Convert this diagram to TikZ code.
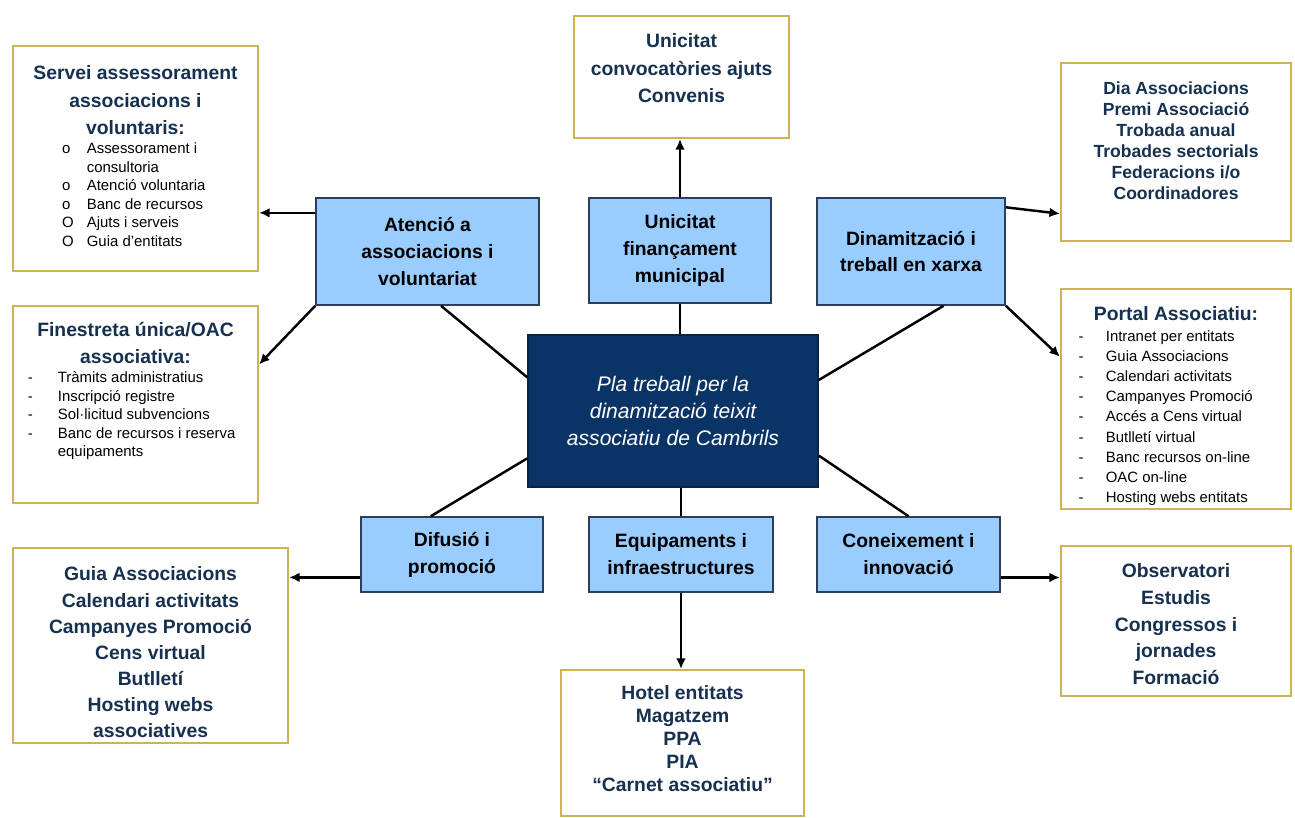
\documentclass[tikz,border=0pt]{standalone}
\usepackage{fontspec}
\setmainfont{Liberation Sans}
\usetikzlibrary{arrows.meta,positioning}
\definecolor{boxblue}{HTML}{99CCFF}
\definecolor{boxline}{HTML}{2B3F5C}
\definecolor{ctrfill}{HTML}{0B3466}
\definecolor{gold}{HTML}{CDB352}
\definecolor{ink}{HTML}{16304F}
\newcommand{\itm}[4]{\par\noindent\hangindent=#2\hangafter=1\makebox[#2][l]{\hspace{#1}#3}#4\par}
\newcommand{\ttl}{\centering\bfseries\color{ink}}
\newcommand{\lst}{\raggedright\mdseries\color{black}\fontsize{8.5}{10.6}\selectfont}
\tikzset{
  ybox/.style={draw=gold, line width=1.2pt, fill=white, inner sep=0pt, anchor=north west},
  bbox/.style={draw=boxline, line width=0.9pt, fill=boxblue, inner sep=0pt, align=center,
    text=black, font=\bfseries\fontsize{11}{15.3}\selectfont},
  cbox/.style={draw=ctrfill!70!black, line width=0.9pt, fill=ctrfill, inner sep=0pt, align=center,
    text=white, font=\itshape\fontsize{12}{15.4}\selectfont},
  ln/.style={line width=1.4pt, black},
  arr/.style={ln, -{Latex[length=6pt,width=5.5pt]}}
}

\begin{document}
\begin{tikzpicture}[x=0.02cm, y=-0.02cm]
	\useasboundingbox (0,0) rectangle (1295,818);
	
	\node[cbox, minimum width=5.8cm, minimum height=3.04cm] (ctr) at (673,411)
		{Pla treball per la\\dinamització teixit\\associatiu de Cambrils};
	
	\node[bbox, minimum width=4.46cm, minimum height=2.14cm] (at) at (427.5,251.5) {Atenció a\\associacions i\\voluntariat};
	\node[bbox, minimum width=3.64cm, minimum height=2.1cm] (un) at (680,250.5) {Unicitat\\finançament\\municipal};
	\node[bbox, minimum width=3.76cm, minimum height=2.14cm] (di) at (911,251.5) {Dinamització i\\treball en xarxa};
	\node[bbox, minimum width=3.64cm, minimum height=1.5cm] (df) at (452,554.5) {Difusió i\\promoció};
	\node[bbox, minimum width=3.68cm, minimum height=1.5cm] (eq) at (681,554.5) {Equipaments i\\infraestructures};
	\node[bbox, minimum width=3.66cm, minimum height=1.5cm] (co) at (908.5,554.5) {Coneixement i\\innovació};
	
	\node[ybox] (sv) at (12,45) {\parbox[t][4.5cm][t]{4.9cm}{\ttl\fontsize{11}{15.6}\selectfont
		\rule{0pt}{19.3pt}Servei assessorament\\associacions i\\voluntaris:\par
		\lst
		\itm{28pt}{42pt}{o}{Assessorament i\newline consultoria}
		\itm{28pt}{42pt}{o}{Atenció voluntaria}
		\itm{28pt}{42pt}{o}{Banc de recursos}
		\itm{28pt}{42pt}{O}{Ajuts i serveis}
		\itm{28pt}{42pt}{O}{Guia d’entitats}}};
	
	\node[ybox] (fi) at (12,305) {\parbox[t][3.94cm][t]{4.9cm}{\ttl\fontsize{11}{15.3}\selectfont
		\rule{0pt}{17.6pt}Finestreta única/OAC\\associativa:\par
		\lst
		\itm{8.5pt}{25.5pt}{-}{Tràmits administratius}
		\itm{8.5pt}{25.5pt}{-}{Inscripció registre}
		\itm{8.5pt}{25.5pt}{-}{Sol·licitud subvencions}
		\itm{8.5pt}{25.5pt}{-}{Banc de recursos i reserva\newline equipaments}}};
	
	\node[ybox] (cv) at (573,15) {\parbox[t][2.44cm][t]{4.3cm}{\ttl\fontsize{11}{15.6}\selectfont
		\rule{0pt}{18.1pt}Unicitat\\convocatòries ajuts\\Convenis}};
	
	\node[ybox] (dy) at (1060,62) {\parbox[t][3.56cm][t]{4.6cm}{\ttl\fontsize{10}{11.9}\selectfont
		\rule{0pt}{18.1pt}Dia Associacions\\Premi Associació\\Trobada anual\\Trobades sectorials\\Federacions i/o\\Coordinadores}};
	
	\node[ybox] (pt) at (1060,288) {\parbox[t][4.4cm][t]{4.6cm}{\ttl\fontsize{11}{15}\selectfont
		\rule{0pt}{18.1pt}Portal Associatiu:\par
		\lst\fontsize{8.5}{11.5}\selectfont
		\itm{10pt}{25.5pt}{-}{Intranet per entitats}
		\itm{10pt}{25.5pt}{-}{Guia Associacions}
		\itm{10pt}{25.5pt}{-}{Calendari activitats}
		\itm{10pt}{25.5pt}{-}{Campanyes Promoció}
		\itm{10pt}{25.5pt}{-}{Accés a Cens virtual}
		\itm{10pt}{25.5pt}{-}{Butlletí virtual}
		\itm{10pt}{25.5pt}{-}{Banc recursos on-line}
		\itm{10pt}{25.5pt}{-}{OAC on-line}
		\itm{10pt}{25.5pt}{-}{Hosting webs entitats}}};
	
	\node[ybox] (gu) at (12,547) {\parbox[t][3.9cm][t]{5.5cm}{\ttl\fontsize{11}{14.9}\selectfont
		\rule{0pt}{18.7pt}Guia Associacions\\Calendari activitats\\Campanyes Promoció\\Cens virtual\\Butlletí\\Hosting webs\\associatives}};
	
	\node[ybox] (ob) at (1060,545) {\parbox[t][3cm][t]{4.6cm}{\ttl\fontsize{11}{15.2}\selectfont
		\rule{0pt}{18.1pt}Observatori\\Estudis\\Congressos i\\jornades\\Formació}};
	
	\node[ybox] (hl) at (560,669) {\parbox[t][2.92cm][t]{4.86cm}{\ttl\fontsize{11}{13}\selectfont
		\rule{0pt}{17pt}Hotel entitats\\Magatzem\\PPA\\PIA\\“Carnet associatiu”}};
	
	\draw[ln] (ctr.167) -- (at.284);
	\draw[ln] (un.south) -- (un.south |- ctr.north);
	\draw[ln] (ctr.12) -- (di.301);
	\draw[ln] (ctr.198) -- (df.119);
	\draw[ln] (ctr.343) -- (co.north);
	\draw[ln] (eq.north |- ctr.south) -- (eq.north);
	
	\draw[arr] (un.north) -- (un.north |- cv.south);
	\draw[arr] (at.161) -- (at.161 -| sv.east);
	\draw[arr] (at.south west) -- (fi.18);
	\draw[arr] (di.25) -- (dy.208);
	\draw[arr] (di.south east) -- (pt.160);
	\draw[arr] (df.194) -- (df.194 -| gu.east);
	\draw[arr] (co.346) -- (co.346 -| ob.west);
	\draw[arr] (eq.south) -- (eq.south |- hl.north);
\end{tikzpicture}
\end{document}
